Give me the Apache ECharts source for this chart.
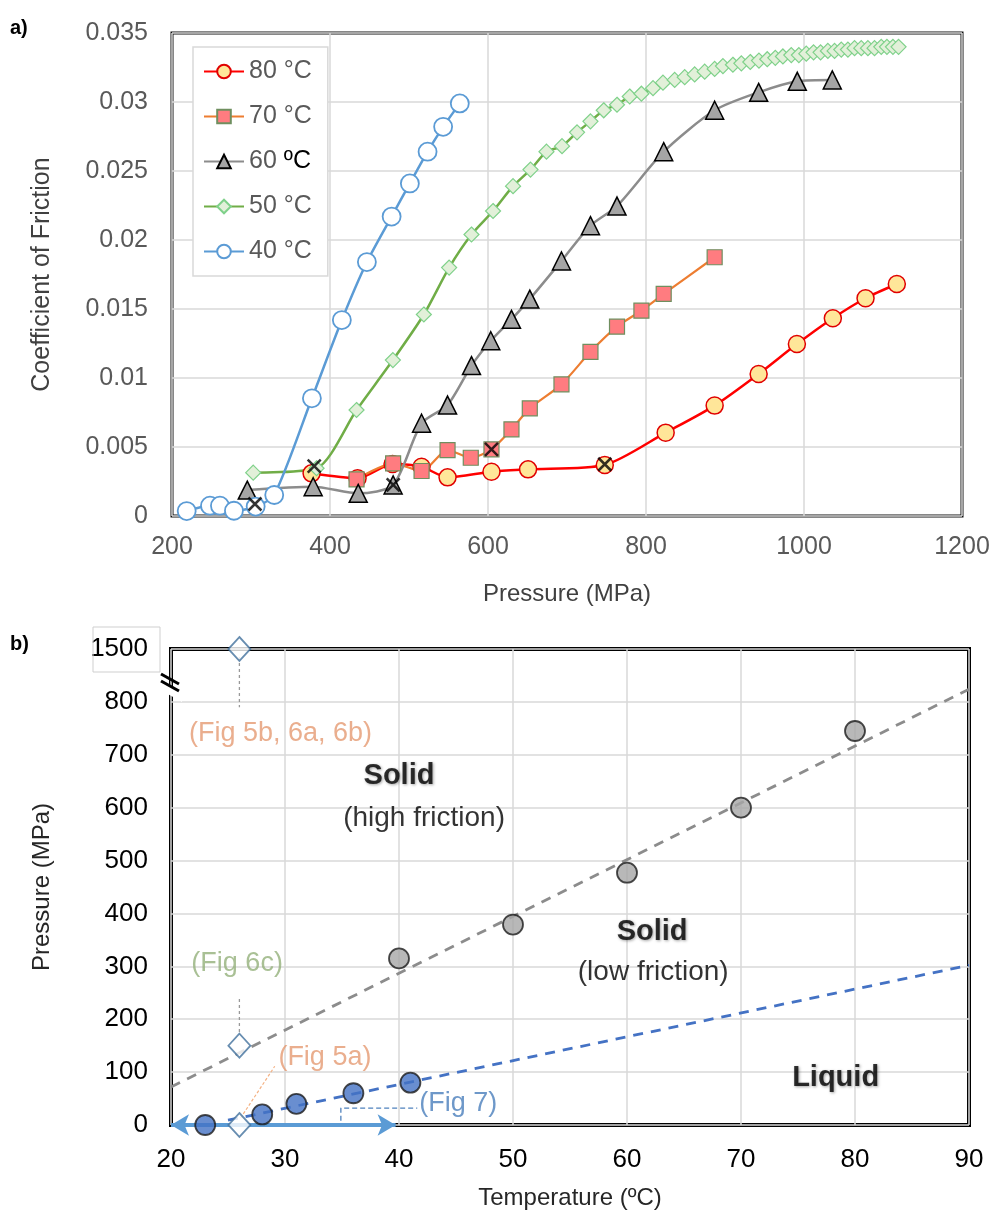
<!DOCTYPE html>
<html><head><meta charset="utf-8">
<script src="https://cdn.jsdelivr.net/npm/echarts@6/dist/echarts.min.js"></script>
<style>html,body{margin:0;padding:0;background:#fff}#c{width:997px;height:1219px}</style>
</head><body><div id="c"></div>
<script>
// ---------- Panel a: coefficient of friction vs pressure ----------
const xTicksA = [200, 400, 600, 800, 1000, 1200];
const cof80 = [[376.7,0.00309],[434.9,0.00273],[479.2,0.00377],[515.9,0.00357],[548.8,0.0028],[604.4,0.00321],[650.7,0.00338],[747.8,0.0037],[824.9,0.00604],[886.9,0.008],[942.6,0.01029],[991,0.01246],[1036.5,0.01433],[1077.9,0.01578],[1117.5,0.01681]];
const cof70 = [[433.6,0.00266],[479.9,0.00382],[515.9,0.00326],[548.8,0.00478],[578.2,0.00422],[604.4,0.00483],[629.7,0.00628],[652.9,0.0078],[693,0.00954],[729.7,0.0119],[763.3,0.01372],[794.2,0.01488],[822.4,0.01609],[886.9,0.01875]];
const cof60 = [[295.3,0.00188],[378.7,0.00212],[435.7,0.00164],[479.9,0.00225],[515.9,0.00672],[548.8,0.00804],[579.1,0.0109],[603.5,0.0127],[629.7,0.01425],[652.9,0.01572],[693,0.01848],[729.7,0.02104],[763.3,0.02246],[822.4,0.0264],[886.9,0.0294],[942.6,0.0307],[991.5,0.0315],[1035.8,0.0316]];
const cof50 = [[302.8,0.00314],[383,0.00346],[433.6,0.00768],[479.6,0.0113],[518.8,0.0146],[550.8,0.018],[579.1,0.0204],[606.4,0.0221],[631.7,0.0239],[653.8,0.0251],[674,0.0264],[693.7,0.0268],[712.7,0.0278],[729.7,0.0286],[746.5,0.0294],[763.3,0.0298],[779.4,0.0304],[794.2,0.0306],[808.9,0.031],[821.5,0.0314],[836.3,0.0316],[849,0.0318],[861.6,0.032],[874.3,0.0322],[886.9,0.0324],[897.4,0.0326],[910,0.0327],[920.7,0.0328],[932,0.0329],[943,0.033],[953.5,0.0331],[963.7,0.0332],[973.3,0.0333],[983.9,0.0334],[993.5,0.0334],[1002.9,0.0335],[1012.1,0.0336],[1021,0.0336],[1030.2,0.0337],[1038.7,0.0337],[1047.2,0.0338],[1055.6,0.0338],[1064,0.0339],[1072.5,0.0339],[1080.9,0.0339],[1089.3,0.0339],[1097.8,0.034],[1105,0.034],[1112.6,0.034],[1119.7,0.034]];
const cof40 = [[218.6,0.00036],[248.1,0.00075],[260.7,0.00075],[278.4,0.00038],[305.9,0.00068],[329.4,0.00152],[377.1,0.00853],[415,0.0142],[446.7,0.0184],[478,0.0217],[501.1,0.0241],[523.5,0.0264],[543.2,0.0282],[564.3,0.0299]];
const transitionMarks = [[305,0.00087],[380,0.00362],[480,0.00225],[604.4,0.00483],[747.8,0.00375]];

// ---------- Panel b: phase diagram ----------
const tempSolid = [40, 50, 60, 70, 80];
const presSolid = [315, 379, 477, 600, 745];
const tempLiquid = [23, 28, 31, 36, 41];
const presLiquid = [0, 20, 40, 60, 80];
const tempRef = [26, 26, 26];
const presRef = [0, 150, 1500];
const fitSolid = [[20, 72], [90, 824]];
const fitLiquid = [[25, 9], [90, 302]];
const xTicksB = [20, 30, 40, 50, 60, 70, 80, 90];
const yLabelsB = [0, 100, 200, 300, 400, 500, 600, 700, 800, 1500];

const FONT = '"Liberation Sans", Arial, sans-serif';
const pairs = (xs, ys) => xs.map((x, i) => [x, ys[i]]);

function cofSeries(name, data, symbol, size, fill, border, bw, lineColor, lw) {
  return {
    name, type: 'line', xAxisIndex: 0, yAxisIndex: 0, data, smooth: 0.25,
    symbol, symbolSize: size, showAllSymbol: true,
    itemStyle: { color: fill, borderColor: border, borderWidth: bw },
    lineStyle: { color: lineColor, width: lw },
    emphasis: { disabled: true }, animation: false
  };
}

function textPt(x, y, text, style) {
  return {
    type: 'scatter', xAxisIndex: 1, yAxisIndex: 1, symbolSize: 0, silent: true, z: 20,
    data: [{ value: [x, y] }],
    label: Object.assign({ show: true, position: 'inside', formatter: text, fontFamily: FONT, fontSize: 27 }, style)
  };
}
const boldStyle = { fontWeight: 'bold', fontSize: 29, color: '#000', textShadowColor: 'rgba(0,0,0,0.45)', textShadowBlur: 3, textShadowOffsetX: 1, textShadowOffsetY: 1 };

const chart = echarts.init(document.getElementById('c'));
const option = {
  animation: false,
  backgroundColor: '#fff',
  textStyle: { fontFamily: FONT },
  grid: [
    { left: 172, top: 33, width: 790, height: 483, show: true, borderColor: '#111', borderWidth: 3, backgroundColor: 'transparent', containLabel: false, outerBoundsMode: 'none' },
    { left: 171, top: 649, width: 798, height: 476, show: true, borderColor: '#000', borderWidth: 4, backgroundColor: 'transparent', containLabel: false, outerBoundsMode: 'none' }
  ],
  xAxis: [
    { gridIndex: 0, type: 'value', min: xTicksA[0], max: xTicksA[xTicksA.length - 1], interval: 200,
      axisLine: { show: false }, axisTick: { show: false },
      splitLine: { show: true, lineStyle: { color: '#d9d9d9', width: 1.5 } },
      axisLabel: { color: '#595959', fontSize: 25, margin: 19, fontFamily: FONT, formatter: v => String(v) },
      name: 'Pressure (MPa)', nameLocation: 'middle', nameGap: 66,
      nameTextStyle: { color: '#404040', fontSize: 24, fontFamily: FONT } },
    { gridIndex: 1, type: 'value', min: xTicksB[0], max: xTicksB[xTicksB.length - 1], interval: 10,
      axisLine: { show: false }, axisTick: { show: false },
      splitLine: { show: true, lineStyle: { color: '#d9d9d9', width: 1.5 } },
      axisLabel: { color: '#000', fontSize: 26, margin: 22, fontFamily: FONT, formatter: v => String(v) },
      name: 'Temperature (ºC)', nameLocation: 'middle', nameGap: 61,
      nameTextStyle: { color: '#262626', fontSize: 24, fontFamily: FONT } }
  ],
  yAxis: [
    { gridIndex: 0, type: 'value', min: 0, max: 0.035, interval: 0.005,
      axisLine: { show: false }, axisTick: { show: false },
      splitLine: { show: true, lineStyle: { color: '#d9d9d9', width: 1.5 } },
      axisLabel: { color: '#595959', fontSize: 25, margin: 24, fontFamily: FONT },
      name: 'Coefficient of Friction', nameLocation: 'middle', nameGap: 117,
      nameTextStyle: { color: '#404040', fontSize: 25, fontFamily: FONT } },
    { gridIndex: 1, type: 'value', min: 0, max: 1500, interval: 100,
      breaks: [{ start: 850, end: 1470, gap: 20 }],
      breakArea: { show: false },
      axisLine: { show: false },
      axisTick: { show: false, customValues: yLabelsB },
      splitLine: { show: true, lineStyle: { color: '#d9d9d9', width: 1.5 } },
      axisLabel: { color: '#000', fontSize: 26, margin: 23, fontFamily: FONT, customValues: yLabelsB,
        formatter: v => String(v) },
      name: 'Pressure (MPa)', nameLocation: 'middle', nameGap: 117,
      nameTextStyle: { color: '#262626', fontSize: 24, fontFamily: FONT } }
  ],
  legend: {
    left: 193, top: 47, orient: 'vertical', itemGap: 20, itemWidth: 40, itemHeight: 17,
    padding: [12, 16, 12, 10], backgroundColor: '#fff', borderColor: '#d9d9d9', borderWidth: 1.5,
    formatter: name => (name === '60 ºC' ? '60 {k|ºC}' : name),
    textStyle: { color: '#595959', fontSize: 25, fontFamily: FONT,
      rich: { k: { color: '#000', fontSize: 25, fontFamily: FONT } } },
    data: ['80 °C', '70 °C', '60 ºC', '50 °C', '40 °C']
  },
  graphic: [
    { type: 'text', left: 10, top: 18, style: { text: 'a)', fontSize: 20, fontWeight: 'bold', fill: '#000', fontFamily: FONT } },
    { type: 'text', left: 10, top: 634, style: { text: 'b)', fontSize: 20, fontWeight: 'bold', fill: '#000', fontFamily: FONT } },
    { type: 'rect', z: 50, shape: { x: 93, y: 627, width: 67, height: 45 }, style: { fill: 'none', stroke: '#cfcfcf', lineWidth: 1 } },
    { type: 'polygon', z: 100, shape: { points: [[166, 683], [182, 692], [182, 702], [166, 693]] }, style: { fill: '#fff' } },
    { type: 'line', z: 101, shape: { x1: 161, y1: 674, x2: 179, y2: 684 }, style: { stroke: '#000', lineWidth: 3 } },
    { type: 'line', z: 101, shape: { x1: 161, y1: 681, x2: 179, y2: 691 }, style: { stroke: '#000', lineWidth: 3 } }
  ],
  series: [
    cofSeries('80 °C', cof80, 'circle', 17, '#FFE699', '#E00000', 1.5, '#FF0000', 2.5),
    cofSeries('70 °C', cof70, 'rect', 15, '#FF7C80', '#6F8F5F', 1.2, '#ED7D31', 2.2),
    cofSeries('60 ºC', cof60, 'triangle', 18, '#A5A5A5', '#000', 1.5, '#8C8C8C', 2.5),
    cofSeries('50 °C', cof50, 'diamond', 15, '#E2F0D9', '#7FD18A', 1.2, '#70AD47', 2.5),
    cofSeries('40 °C', cof40, 'circle', 18, '#FFFFFF', '#5B9BD5', 1.8, '#5B9BD5', 2.5),
    { type: 'scatter', xAxisIndex: 0, yAxisIndex: 0, data: transitionMarks, silent: true, z: 10,
      symbol: 'path://M0,0L10,10M10,0L0,10', symbolSize: 13,
      itemStyle: { color: 'none', borderColor: '#000', borderWidth: 2.5 } },

    // panel b
    { type: 'line', xAxisIndex: 1, yAxisIndex: 1, data: fitSolid, symbol: 'none', silent: true,
      lineStyle: { color: '#8C8C8C', width: 2.8, type: [10, 8] },
      markLine: { silent: true, symbol: ['arrow', 'arrow'], symbolSize: [16, 18], label: { show: false },
        lineStyle: { color: '#5B9BD5', width: 4, type: 'solid' },
        data: [[{ coord: [20, 0] }, { coord: [39.7, 0] }]] } },
    { type: 'line', xAxisIndex: 1, yAxisIndex: 1, data: fitLiquid, symbol: 'none', silent: true,
      lineStyle: { color: '#4472C4', width: 2.8, type: [10, 8] } },
    { type: 'line', xAxisIndex: 1, yAxisIndex: 1, data: [[26, 1485], [26, 790]], symbol: 'none', silent: true,
      lineStyle: { color: '#999', width: 1.3, type: [3, 3] } },
    { type: 'line', xAxisIndex: 1, yAxisIndex: 1, data: [[26, 238], [26, 172]], symbol: 'none', silent: true,
      lineStyle: { color: '#999', width: 1.3, type: [3, 3] } },
    { type: 'line', xAxisIndex: 1, yAxisIndex: 1, data: [[26.1, 13], [29.1, 111]], symbol: 'none', silent: true,
      lineStyle: { color: '#F4B183', width: 1.2, type: [3, 2] } },
    { type: 'line', xAxisIndex: 1, yAxisIndex: 1, data: [[34.9, 8], [34.9, 32], [41.6, 32]], symbol: 'none', silent: true,
      lineStyle: { color: '#4F81BD', width: 1.3, type: [5, 3] } },
    { type: 'scatter', xAxisIndex: 1, yAxisIndex: 1, data: pairs(tempSolid, presSolid), symbol: 'circle', symbolSize: 20, z: 5,
      itemStyle: { color: '#A6A6A6', borderColor: '#1a1a1a', borderWidth: 1.8 } },
    { type: 'scatter', xAxisIndex: 1, yAxisIndex: 1, data: pairs(tempLiquid, presLiquid), symbol: 'circle', symbolSize: 20, z: 5,
      itemStyle: { color: '#4472C4', borderColor: '#1a1a1a', borderWidth: 1.8 } },
    { type: 'scatter', xAxisIndex: 1, yAxisIndex: 1, data: pairs(tempRef, presRef), symbol: 'diamond', symbolSize: [22, 24], z: 6, clip: false,
      itemStyle: { color: '#fff', borderColor: '#41719C', borderWidth: 1.8 } },
    textPt(29.6, 741, '(Fig 5b, 6a, 6b)', { color: '#E59A72' }),
    textPt(25.8, 306, '(Fig 6c)', { color: '#93B07A' }),
    textPt(33.5, 128, '(Fig 5a)', { color: '#E59A72' }),
    textPt(45.2, 40, '(Fig 7)', { color: '#4A7EBB' }),
    textPt(40, 660, 'Solid', boldStyle),
    textPt(42.2, 580, '(high friction)', { color: '#000', fontSize: 28 }),
    textPt(62.2, 365, 'Solid', boldStyle),
    textPt(62.3, 289, '(low friction)', { color: '#000', fontSize: 28 }),
    textPt(78.3, 89, 'Liquid', boldStyle)
  ]
};
chart.setOption(option);
</script>
</body></html>
